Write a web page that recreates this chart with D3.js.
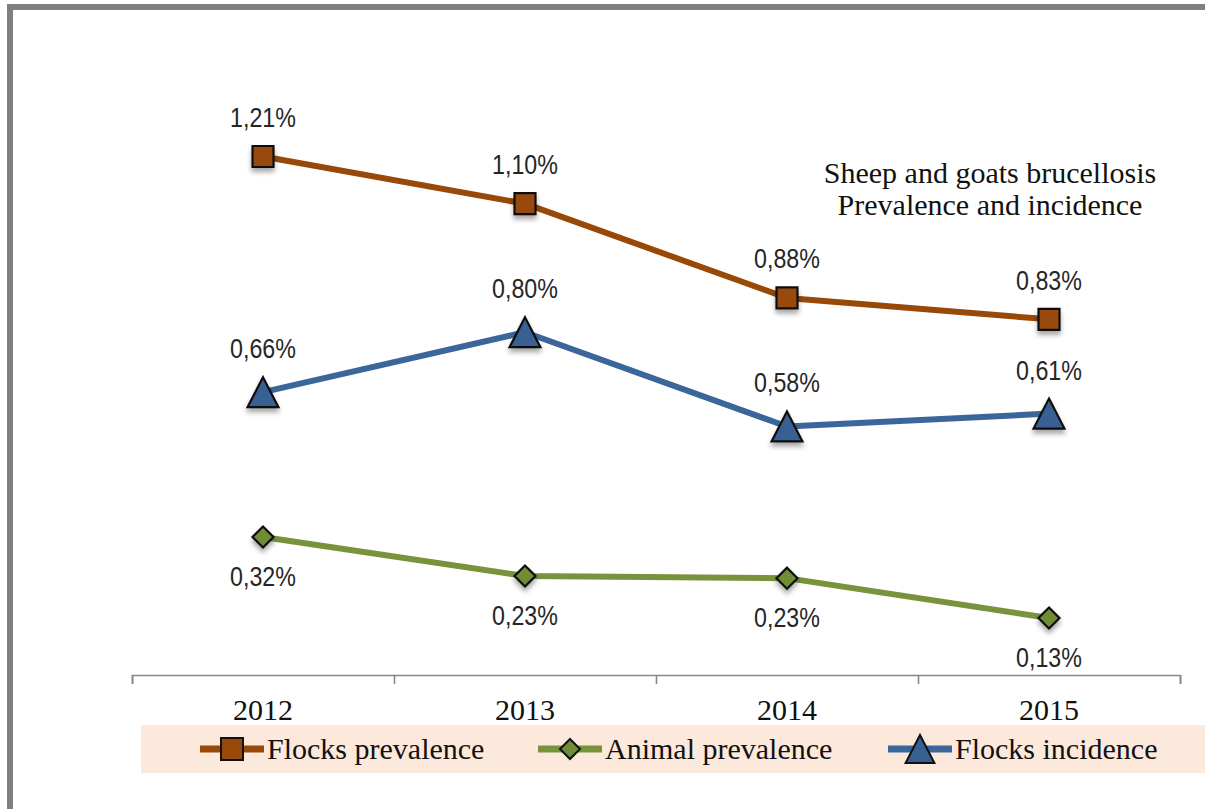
<!DOCTYPE html>
<html>
<head>
<meta charset="utf-8">
<script src="https://cdn.jsdelivr.net/npm/d3@7"></script>
<style>
  html, body { margin: 0; padding: 0; background: #fff; }
  svg { display: block; }
</style>
</head>
<body>
<svg id="chart" width="1205" height="809"></svg>
<script>
const years = ["2012", "2013", "2014", "2015"];
const flocksPrevalence = [1.21, 1.10, 0.88, 0.83];
const animalPrevalence = [0.322, 0.231, 0.226, 0.133];
const flocksIncidence = [0.66, 0.80, 0.58, 0.61];
const seriesNames = ["Flocks prevalence", "Animal prevalence", "Flocks incidence"];
const titleLines = ["Sheep and goats brucellosis", "Prevalence and incidence"];

const svg = d3.select("#chart");
const W = 1205, H = 809;
const serif = "'Liberation Serif', 'Times New Roman', serif";

// drop shadow filter
const defs = svg.append("defs");
const f = defs.append("filter").attr("id", "sh").attr("x", "-50%").attr("y", "-50%").attr("width", "200%").attr("height", "220%");
f.append("feDropShadow").attr("dx", 0).attr("dy", 4).attr("stdDeviation", 2.5).attr("flood-color", "#000").attr("flood-opacity", 0.35);

// frame
svg.append("rect").attr("x", 7).attr("y", 4).attr("width", W - 7).attr("height", 6).attr("fill", "#808080");
svg.append("rect").attr("x", 7).attr("y", 4).attr("width", 6).attr("height", H - 4).attr("fill", "#808080");

const left = 132, right = 1180, y0 = 675;
const x = d3.scalePoint().domain(years).range([left, right]).padding(0.5);
const xb = d3.scaleLinear().domain([0, years.length]).range([left, right]);
const y = d3.scaleLinear().domain([0, 1.4]).range([y0, y0 - 1.4 * 428.5]);

// axis
const ax = svg.append("g").attr("transform", `translate(0,${y0})`)
  .call(d3.axisBottom(xb).tickValues(d3.range(years.length + 1)).tickSize(9).tickSizeOuter(9).tickFormat(""));
ax.selectAll("path, line").attr("stroke", "#878787").attr("stroke-width", 1.6);

svg.append("g").selectAll("text").data(years).join("text")
  .attr("x", d => x(d)).attr("y", 720)
  .attr("text-anchor", "middle")
  .attr("font-family", serif)
  .attr("font-size", 30).attr("fill", "#111")
  .text(d => d);

// title
svg.append("g").selectAll("text").data(titleLines).join("text")
  .attr("x", 990).attr("y", (d, i) => 183 + i * 32)
  .attr("text-anchor", "middle")
  .attr("font-family", serif)
  .attr("font-size", 30).attr("fill", "#111")
  .text(d => d);

const series = [
  { name: seriesNames[0], values: flocksPrevalence, color: "#984807", fill: "#984807", shape: "square", size: 21, lab: "above" },
  { name: seriesNames[1], values: animalPrevalence, color: "#77933C", fill: "#6F8C36", shape: "diamond", size: 21, lab: "below" },
  { name: seriesNames[2], values: flocksIncidence, color: "#3B6699", fill: "#376092", shape: "triangle", size: 30, lab: "above" }
];

function markerPath(shape, s) {
  const h = s / 2;
  if (shape === "square") return `M${-h},${-h}H${h}V${h}H${-h}Z`;
  if (shape === "diamond") return `M0,${-h}L${h},0L0,${h}L${-h},0Z`;
  return `M0,${-h}L${h * 1.03},${h}L${-h * 1.03},${h}Z`;
}

const fmt = v => v.toFixed(2).replace(".", ",") + "%";

series.forEach(s => {
  const line = d3.line().x((d, i) => x(years[i])).y(d => y(d));
  svg.append("path").datum(s.values)
    .attr("d", line).attr("fill", "none")
    .attr("stroke", s.color).attr("stroke-width", 6).attr("stroke-linejoin", "round");
});

series.forEach(s => {
  const g = svg.append("g");
  g.selectAll("path").data(s.values).join("path")
    .attr("transform", (d, i) => `translate(${x(years[i])},${y(d)})`)
    .attr("d", markerPath(s.shape, s.size))
    .attr("fill", s.fill).attr("stroke", "#111").attr("stroke-width", 2.2)
    .attr("stroke-linejoin", "miter")
    .attr("filter", "url(#sh)");
  g.selectAll("text").data(s.values).join("text")
    .attr("transform", (d, i) => {
      const off = s.lab === "above" ? -(s.size / 2 + 19) : (s.size / 2 + 38);
      return `translate(${x(years[i])},${y(d) + off}) scale(0.83,1)`;
    })
    .attr("text-anchor", "middle")
    .attr("font-family", "'Liberation Sans', Arial, sans-serif")
    .attr("font-size", 28).attr("fill", "#262626")
    .text(d => fmt(d));
});

// legend
svg.append("rect").attr("x", 141).attr("y", 725).attr("width", W - 141).attr("height", 48).attr("fill", "#FCE9DC");
const legX = [200, 538, 888];
const legSizes = [22, 20, 28];
series.forEach((s, i) => {
  const lx = legX[i], ly = 749;
  svg.append("line").attr("x1", lx).attr("x2", lx + 64).attr("y1", ly).attr("y2", ly)
    .attr("stroke", s.color).attr("stroke-width", 7);
  svg.append("path").attr("transform", `translate(${lx + 32},${ly})`)
    .attr("d", markerPath(s.shape, legSizes[i]))
    .attr("fill", s.fill).attr("stroke", "#111").attr("stroke-width", 2);
  svg.append("text").attr("x", lx + 67).attr("y", 759)
    .attr("font-family", serif)
    .attr("font-size", 30).attr("fill", "#111")
    .text(s.name);
});
</script>
</body>
</html>
